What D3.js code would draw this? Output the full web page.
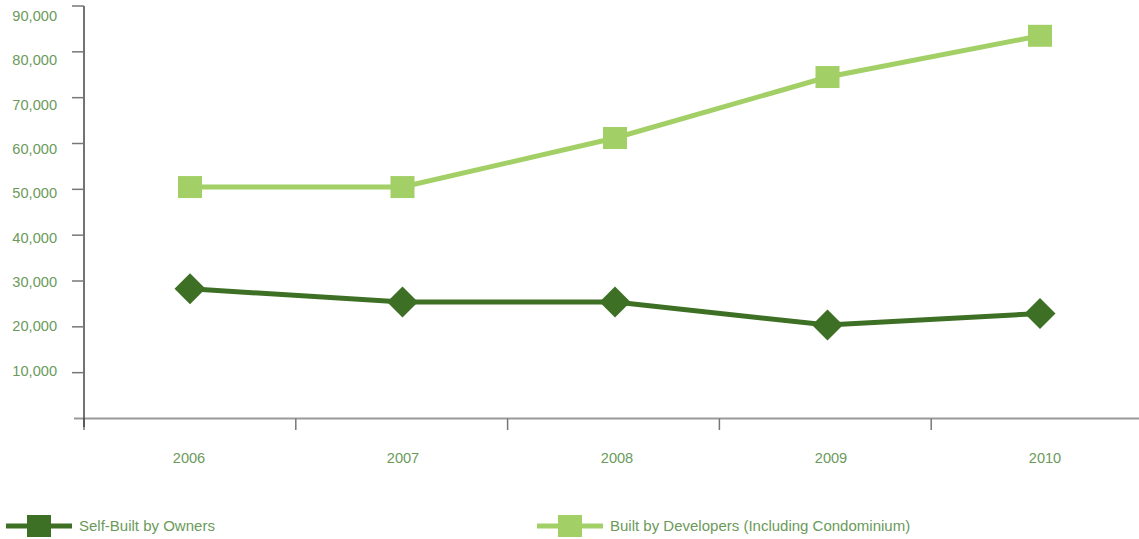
<!DOCTYPE html>
<html><head><meta charset="utf-8">
<script src="https://d3js.org/d3.v7.min.js"></script>
<style>body{margin:0;background:#fff}svg{display:block}</style>
</head><body>
<script>
const categories = ["2006","2007","2008","2009","2010"];
const selfBuilt = [28300, 25400, 25400, 20400, 22900];
const developers = [50500, 50500, 61200, 74500, 83500];
const yTicks = [10000,20000,30000,40000,50000,60000,70000,80000,90000];
const seriesNames = ["Self-Built by Owners","Built by Developers (Including Condominium)"];

const W=1139,H=539;
const darkG="#3d7024", lightG="#a3d066", txt="#6b9a5b";
const svg=d3.select("body").append("svg").attr("width",W).attr("height",H);
const x=d3.scaleBand().domain(categories).range([84,1143]);
const xp=d3.scalePoint().domain(categories).range([190,1040]);
const xl=d3.scalePoint().domain(categories).range([189,1045]);
const y=d3.scaleLinear().domain([0,90000]).range([418.5,6]);
const yl=d3.scaleLinear().domain([0,90000]).range([415,16]);
const font="Helvetica, Arial, 'Liberation Sans', sans-serif";

// x axis line
svg.append("line").attr("x1",74).attr("x2",W).attr("y1",y(0)).attr("y2",y(0)).attr("stroke","#999").attr("stroke-width",2);
categories.forEach(c=>{
  svg.append("line").attr("x1",x(c)).attr("x2",x(c)).attr("y1",y(0)).attr("y2",430).attr("stroke","#777").attr("stroke-width",1.5);
});
// y axis
svg.append("line").attr("x1",84).attr("x2",84).attr("y1",6).attr("y2",427).attr("stroke","#444").attr("stroke-width",1.5);
yTicks.forEach(t=>{
  svg.append("line").attr("x1",72).attr("x2",84).attr("y1",y(t)).attr("y2",y(t)).attr("stroke","#777").attr("stroke-width",1.5);
  svg.append("text").attr("x",57).attr("y",yl(t)).attr("dy","0.35em").attr("text-anchor","end")
    .attr("font-family",font).attr("font-size",14.6).attr("fill",txt).text(d3.format(",")(t));
});
categories.forEach(c=>{
  svg.append("text").attr("x",xl(c)).attr("y",458).attr("dy","0.35em").attr("text-anchor","middle")
    .attr("font-family",font).attr("font-size",14.6).attr("fill",txt).text(c);
});

const line=d3.line().x((d,i)=>xp(categories[i])).y(d=>y(d));
svg.append("path").datum(developers).attr("d",line).attr("fill","none").attr("stroke",lightG).attr("stroke-width",5);
svg.append("path").datum(selfBuilt).attr("d",line).attr("fill","none").attr("stroke",darkG).attr("stroke-width",5);

developers.forEach((v,i)=>{
  svg.append("rect").attr("x",xp(categories[i])-12).attr("y",y(v)-11).attr("width",24).attr("height",22).attr("fill",lightG);
});
selfBuilt.forEach((v,i)=>{
  const X=xp(categories[i]),Y=y(v),r=15.5;
  svg.append("path").attr("d",`M${X},${Y-r}L${X+r},${Y}L${X},${Y+r}L${X-r},${Y}Z`).attr("fill",darkG);
});

// legend
const leg=[{x0:6,col:darkG,name:seriesNames[0]},{x0:537,col:lightG,name:seriesNames[1]}];
leg.forEach(l=>{
  svg.append("line").attr("x1",l.x0).attr("x2",l.x0+66).attr("y1",526).attr("y2",526).attr("stroke",l.col).attr("stroke-width",5);
  svg.append("rect").attr("x",l.x0+21).attr("y",515).attr("width",24).attr("height",22).attr("fill",l.col);
  svg.append("text").attr("x",l.x0+73).attr("y",526).attr("dy","0.35em").attr("font-family",font).attr("font-size",15).attr("fill",txt).text(l.name);
});
</script>
</body></html>
